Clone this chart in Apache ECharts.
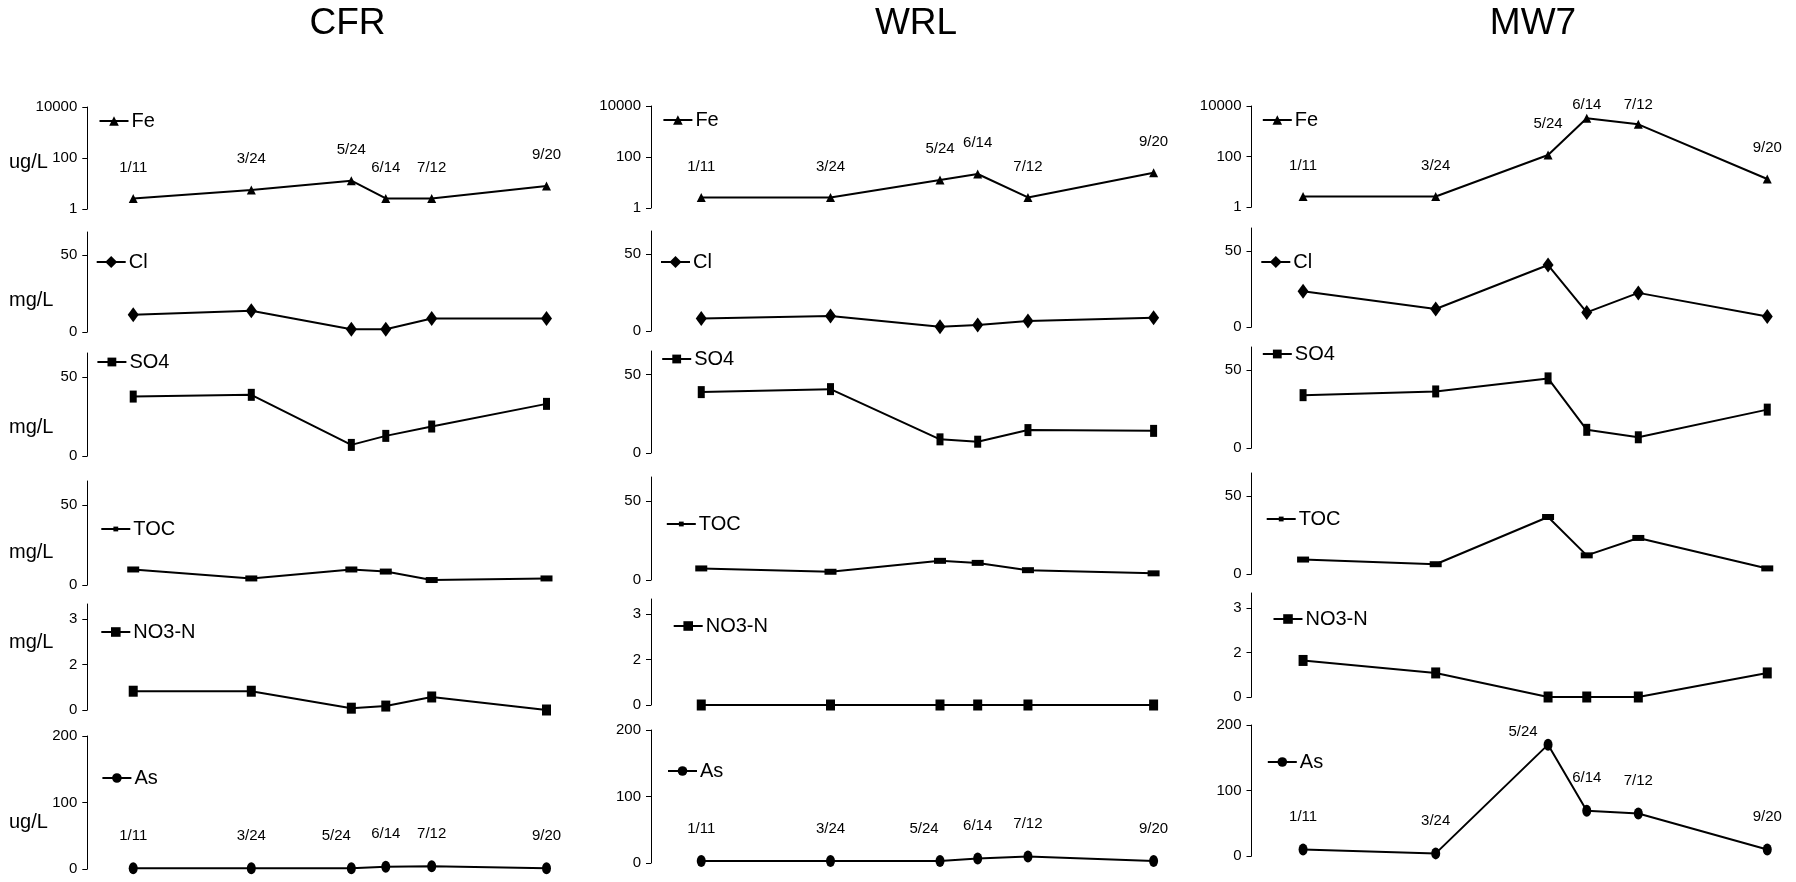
<!DOCTYPE html>
<html><head><meta charset="utf-8">
<script src="https://cdn.jsdelivr.net/npm/echarts@6/dist/echarts.min.js"></script>
<style>html,body{margin:0;padding:0;background:#fff}#c{width:1796px;height:882px}</style>
</head><body><div id="c"></div>
<script>
// ---------------- data ----------------
const sites = ['CFR', 'WRL', 'MW7'];
const dates = ['1/11', '3/24', '5/24', '6/14', '7/12', '9/20'];
const params = ['Fe', 'Cl', 'SO4', 'TOC', 'NO3-N', 'As'];
const units = ['ug/L', 'mg/L', 'mg/L', 'mg/L', 'mg/L', 'ug/L'];

const feTicks = [1, 100, 10000];
const concTicks = [0, 50];
const no3Ticks = [0, 1.5, 3];
const asTicks = [0, 100, 200];

const CFR_Fe  = [2.6, 5.6, 12.9, 2.6, 2.6, 8];
const CFR_Cl  = [11.2, 13.8, 1.8, 1.8, 8.8, 8.8];
const CFR_SO4 = [37.5, 38.6, 7, 12.7, 18.6, 32.9];
const CFR_TOC = [9.7, 4.1, 9.7, 8.4, 3.1, 4.1];
const CFR_NO3 = [0.62, 0.62, 0.06, 0.13, 0.43, 0];
const CFR_As  = [1, 1, 1, 3.5, 4, 1];

const WRL_Fe  = [2.6, 2.6, 12.5, 21.5, 2.6, 24];
const WRL_Cl  = [8.2, 9.7, 2.8, 3.9, 6.5, 8.6];
const WRL_SO4 = [38.8, 40.7, 8.7, 7.2, 14.6, 14.1];
const WRL_TOC = [7.3, 5.2, 12.1, 10.8, 6.2, 4.2];
const WRL_NO3 = [0, 0, 0, 0, 0, 0];
const WRL_As  = [3, 3, 3, 6.6, 9.7, 3];

const MW7_Fe  = [2.6, 2.6, 115, 3250, 1880, 12.8];
const MW7_Cl  = [23.5, 11.8, 40.7, 9.6, 22.4, 6.9];
const MW7_SO4 = [34, 36.4, 44.8, 11.7, 6.9, 24.7];
const MW7_TOC = [9.3, 6.3, 36.7, 12, 23.2, 3.6];
const MW7_NO3 = [1.23, 0.81, 0, 0, 0, 0.81];
const MW7_As  = [10, 4, 170, 69, 65, 10];

const siteData = [
  [CFR_Fe, CFR_Cl, CFR_SO4, CFR_TOC, CFR_NO3, CFR_As],
  [WRL_Fe, WRL_Cl, WRL_SO4, WRL_TOC, WRL_NO3, WRL_As],
  [MW7_Fe, MW7_Cl, MW7_SO4, MW7_TOC, MW7_NO3, MW7_As]
];

// day of year from "m/d"
function dayOfYear(s) {
  const [m, d] = s.split('/').map(Number);
  return Math.round((Date.UTC(2001, m - 1, d) - Date.UTC(2001, 0, 0)) / 86400000);
}

// ---------------- layout / style ----------------
const NARROW = '"Liberation Sans Narrow", "Arial Narrow", "Liberation Sans", Arial, sans-serif';
const REG = '"Liberation Sans", Arial, sans-serif';
const XMIN = -17, XMAX = 270;

const colLayout = [
  {axisX: 87.3, k: 1.64, titleX: 347.5, peakDx: -15,
   tops: [107, 232, 353, 481, 604, 736], bottoms: [209, 332, 456, 585, 710, 869],
   legend: [[98.5, 122], [95.7, 263], [96.4, 363], [100.3, 530], [100.3, 633], [101.4, 779]]},
  {axisX: 651, k: 1.795, titleX: 916, peakDx: -16,
   tops: [106, 231, 351, 477, 599, 730], bottoms: [208, 331, 453, 580, 705, 863],
   legend: [[662.4, 121], [660, 263], [661.2, 360], [665.8, 525], [672.7, 627], [667, 772]]},
  {axisX: 1251.5, k: 1.842, titleX: 1533, peakDx: -25,
   tops: [106, 228, 347, 473, 593, 725], bottoms: [207, 327, 448, 574, 697, 856],
   legend: [[1261.8, 121], [1260.3, 263], [1261.8, 355], [1265.7, 520], [1272.5, 620], [1266.8, 763]]}
];
const unitY = [162, 300, 427, 552, 642, 822];

const ELLIPSE = 'path://M0,6a4.5,6 0 1,0 9,0a4.5,6 0 1,0 -9,0z';
const rowCfg = [
  {log: true, min: 1, max: 10000, symbol: 'triangle', size: [9, 9], labels: true, clamp: 9, legH: 12},
  {min: 0, max: 65, ticks: concTicks, symbol: 'diamond', size: [11, 15], legH: 15},
  {min: 0, max: 65, ticks: concTicks, symbol: 'rect', size: [7, 12], legH: 11},
  {min: 0, max: 65, ticks: concTicks, symbol: 'rect', size: [12, 6], legH: 6},
  {min: 0, max: 3.5, ticks: no3Ticks, symbol: 'rect', size: [9, 11], legH: 12, round: true},
  {min: 0, max: 200, ticks: asTicks, symbol: ELLIPSE, size: [9, 12], labels: true, clamp: 1, legH: 12, peak: true}
];

const grids = [], xAxes = [], yAxes = [], series = [], legends = [], graphics = [];

sites.forEach((site, c) => {
  const L = colLayout[c];
  graphics.push({type: 'text', x: L.titleX, y: 24,
    style: {text: site, fontFamily: REG, fontSize: 37, fill: '#000', align: 'center', verticalAlign: 'middle'}});
  params.forEach((p, r) => {
    const R = rowCfg[r];
    const i = grids.length;
    const top = L.tops[r];
    grids.push({left: L.axisX, top: top, width: (XMAX - XMIN) * L.k, height: L.bottoms[r] - top});
    xAxes.push({gridIndex: i, type: 'value', min: XMIN, max: XMAX, show: false});
    const y = {
      gridIndex: i, min: R.min, max: R.max,
      axisLine: {show: true, onZero: false, lineStyle: {color: '#000', width: 1}},
      axisTick: {show: true, length: 5, lineStyle: {color: '#000', width: 1}},
      axisLabel: {fontFamily: NARROW, fontSize: 15, color: '#000', margin: 10,
                  formatter: v => String(R.round ? Math.round(v) : v)},
      splitLine: {show: false}
    };
    if (R.log) {
      y.type = 'log'; y.logBase = 100; y.splitNumber = 2;
    } else {
      y.type = 'value';
      y.axisTick.customValues = R.ticks;
      y.axisLabel.customValues = R.ticks;
    }
    yAxes.push(y);

    const vals = siteData[c][r];
    const s = {
      type: 'line', name: p, xAxisIndex: i, yAxisIndex: i,
      data: dates.map((d, j) => [dayOfYear(d), vals[j]]),
      symbol: R.symbol, symbolSize: R.size, showAllSymbol: true,
      lineStyle: {color: '#000', width: 2},
      itemStyle: {color: '#000'},
      emphasis: {disabled: true},
      animation: false
    };
    if (R.labels) {
      s.label = {show: true, position: 'top', distance: 19,
        formatter: q => dates[q.dataIndex],
        fontFamily: NARROW, fontSize: 15, color: '#000'};
      const minY = top - R.clamp;
      s.labelLayout = q => {
        const out = {};
        if (q.labelRect.y < minY) out.dy = minY - q.labelRect.y;
        if (R.peak && dates[q.dataIndex] === '5/24') out.dx = L.peakDx;
        return out;
      };
    }
    series.push(s);

    const lg = L.legend[r];
    legends.push({
      left: lg[0], top: lg[1] - 11, padding: 0, itemWidth: 29, itemHeight: R.legH, itemGap: 0,
      data: [p], selectedMode: false,
      textStyle: {fontFamily: NARROW, fontSize: 20, color: '#000', padding: [0, 0, 0, -2]}
    });

    if (c === 0) {
      graphics.push({type: 'text', x: 9, y: unitY[r],
        style: {text: units[r], fontFamily: REG, fontSize: 20, fill: '#000', verticalAlign: 'middle'}});
    }
  });
});

const chart = echarts.init(document.getElementById('c'), null, {renderer: 'canvas'});
chart.setOption({
  backgroundColor: '#fff',
  animation: false,
  grid: grids, xAxis: xAxes, yAxis: yAxes, series: series, legend: legends,
  graphic: graphics
});
</script>
</body></html>
